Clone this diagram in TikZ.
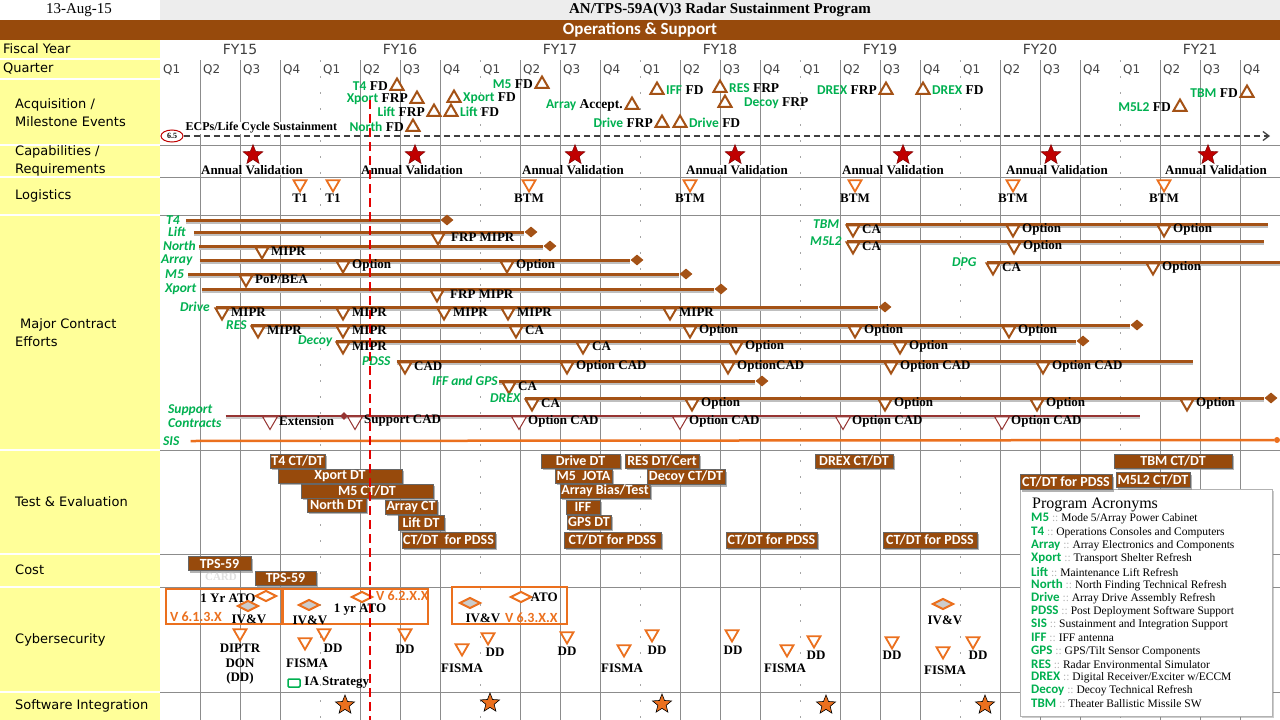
\documentclass[tikz,border=0pt]{standalone}
\usepackage{fontspec}
\setmainfont{Liberation Serif}
\setsansfont{Carlito}
\newfontfamily\encabezado{DejaVu Sans}
\usetikzlibrary{arrows.meta,positioning,shapes.geometric,shadows}
\definecolor{burntbrown}{RGB}{151,74,12}
\definecolor{barbrown}{RGB}{164,82,22}
\definecolor{excelgreen}{RGB}{0,176,80}
\definecolor{paleyellow}{RGB}{255,255,153}
\definecolor{pumpkin}{RGB}{235,112,30}
\definecolor{rojoestrella}{RGB}{192,0,0}
\definecolor{vino}{RGB}{150,52,50}
\newcommand{\sigla}[1]{{\sffamily\bfseries\color{excelgreen}#1}}
\tikzset{
  rejilla/.style={
    black!45,
    line width=0.8pt
  },
  rotulo/.style={
    anchor=west,
    inner sep=0pt,
    align=left,
    font=\encabezado\fontsize{13}{18}\selectfont
  },
  trim/.style={
    anchor=west,
    inner sep=0pt,
    text=black!75,
    font=\encabezado\fontsize{12}{14}\selectfont
  },
  nota/.style={
    inner sep=0.5pt,
    font=\bfseries\fontsize{13}{14.5}\selectfont
  },
  evento/.style={
    inner sep=0.5pt,
    font=\bfseries\fontsize{13.5}{14}\selectfont
  },
  hito/.style={
    regular polygon,
    regular polygon sides=3,
    draw=barbrown,
    fill=white,
    line width=2pt,
    minimum size=15pt,
    inner sep=0pt
  },
  marca/.style={
    hito,
    shape border rotate=180
  },
  logist/.style={
    marca,
    draw=pumpkin,
    line width=1.8pt
  },
  tenue/.style={
    marca,
    draw=vino,
    line width=1pt,
    minimum size=17pt
  },
  contrato/.style={
    anchor=west,
    inner sep=0pt,
    align=left,
    text=excelgreen,
    font=\sffamily\bfseries\itshape\fontsize{13.5}{13.5}\selectfont
  },
  barra/.style={
    draw=barbrown,
    line width=3pt,
    preaction={draw=black!25,line width=3pt,transform canvas={yshift=-2.5pt}}
  },
  fin/.style={
    diamond,
    fill=barbrown,
    inner sep=0pt,
    minimum width=13pt,
    minimum height=11pt
  },
  caja/.style={
    draw=black!60,
    fill=burntbrown,
    text=white,
    inner sep=0pt,
    font=\sffamily\bfseries\fontsize{14}{14}\selectfont,
    drop shadow={shadow xshift=2pt,shadow yshift=-2pt,opacity=.6}
  },
  ciclo/.style={
    draw=pumpkin,
    line width=2.5pt
  },
  rombo/.style={
    diamond,
    draw=pumpkin,
    line width=2pt,
    fill=white,
    minimum width=21pt,
    minimum height=11pt,
    inner sep=0pt
  },
  rombogris/.style={
    rombo,
    fill=black!20
  },
  version/.style={
    anchor=west,
    inner sep=0pt,
    text=pumpkin,
    font=\sffamily\bfseries\fontsize{14}{14}\selectfont
  },
  estrella/.style={
    star,
    star points=5,
    star point ratio=2.3,
    fill=rojoestrella,
    draw=rojoestrella!60!black,
    minimum size=21pt,
    inner sep=0pt
  },
  estrellita/.style={
    estrella,
    fill=pumpkin,
    draw=black,
    line width=0.6pt,
    minimum size=20pt
  },
  hoy/.style={
    red!90!black,
    line width=2.5pt,
    dash pattern=on 9pt off 5pt
  }
}

\begin{document}
\begin{tikzpicture}[x=1pt,y=-1pt,>=Stealth]
\useasboundingbox (0,0) rectangle (1280,720);
% cabecera
\fill[white] (0,0) rectangle (160,20);
\fill[black!7] (160,0) rectangle (1280,20);
\fill[burntbrown] (0,20) rectangle (1280,40);
\node[font=\fontsize{15}{15}\selectfont] (fecha) at (79,10) {13-Aug-15};
\node[font=\bfseries\fontsize{15}{15}\selectfont] (titulo) at (720,10) {AN/TPS-59A(V)3 Radar Sustainment Program};
\node[text=white,font=\sffamily\bfseries\fontsize{17}{17}\selectfont] (banda) at (640,30) {Operations \& Support};

% rejilla
\fill[paleyellow] (0,40) rectangle (160,720);
\foreach \y in {59,79,145,177,215,450,554,587,692}
  \draw[white,line width=1.5pt] (0,\y) -- (160,\y);
\foreach \y in {145,177,215,450,554,587,692}
  \draw[rejilla] (160,\y) -- (1280,\y);
\foreach \k in {1,...,27} {
  \pgfmathtruncatemacro\r{mod(\k,4)}
  \ifnum\r=0
    \draw[rejilla,black!35,dash pattern=on 2pt off 14pt] ({160+40*\k},60) -- ({160+40*\k},720);
  \else
    \draw[rejilla] ({160+40*\k},60) -- ({160+40*\k},720);
  \fi
}
\foreach \a [count=\f from 0] in {15,...,21}
  \node[trim,anchor=center,font=\encabezado\fontsize{14}{14}\selectfont] (fy\a) at ({240+160*\f},49) {FY\a};
\foreach \k in {0,...,27} {
  \pgfmathtruncatemacro\q{mod(\k,4)+1}
  \node[trim] (q\k) at ({163+40*\k},70) {Q\q};
}

% rotulos de filas
\node[rotulo] (r-fy) at (3,49) {Fiscal Year};
\node[rotulo] (r-q) at (3,69) {Quarter};
\node[rotulo] (r-acq) at (15,113) {Acquisition /\\Milestone Events};
\node[rotulo] (r-cap) at (15,161) {Capabilities /\\Requirements};
\node[rotulo] (r-log) at (15,196) {Logistics};
\node[rotulo] (r-mce) at (15,333) {\hspace{5pt}Major Contract\\Efforts};
\node[rotulo] (r-te) at (15,502) {Test \& Evaluation};
\node[rotulo] (r-cost) at (15,570) {Cost};
\node[rotulo] (r-cyber) at (15,640) {Cybersecurity};
\node[rotulo] (r-sw) at (15,706) {Software Integration};

% adquisicion
\foreach \x/\y/\n/\t [count=\i] in {397/86/T4/FD, 417/99/Xport/FRP, 434/112/Lift/FRP, 413/127/North/FD, 542/84/M5/FD, 632/105/Array/Accept., 662/123/Drive/FRP, 886/90/DREX/FRP, 1180/107/M5L2/FD, 1247/93/TBM/FD} {
  \node[hito] (hi\i) at (\x,\y) {};
  \node[evento,left=3pt of hi\i] (ei\i) {\sigla{\n} \t};
}
\foreach \x/\y/\n/\t [count=\i] in {454/98/Xport/FD, 451/112/Lift/FD, 657/90/IFF/FD, 680/123/Drive/FD, 720/88/RES/FRP, 923/90/DREX/FD} {
  \node[hito] (hd\i) at (\x,\y) {};
  \node[evento,right=3pt of hd\i] (ed\i) {\sigla{\n} \t};
}
\node[hito] (h-decoy) at (725,103) {};
\node[evento,right=13pt of h-decoy] (e-decoy) {\sigla{Decoy} FRP};
\node[ellipse,draw=red!75!black,line width=1pt,inner sep=0pt,minimum width=22pt,minimum height=12pt,font=\bfseries\fontsize{8}{8}\selectfont] (v65) at (172,136) {6.5};
\node[nota,anchor=west,fill=white,font=\bfseries\fontsize{12}{12}\selectfont] (ecp) at (185,128) {ECPs/Life Cycle Sustainment};
\coordinate (ecp-fin) at (1270,136);
\draw[black!75,line width=1.3pt,dash pattern=on 6pt off 4pt,-{Straight Barb[length=6pt,width=9pt]}] (v65) -- (ecp-fin);

% capacidades
\foreach \x/\tx [count=\i] in {253/252, 415/412, 575/573, 735/737, 903/893, 1051/1057, 1208/1216} {
  \node[estrella] (s\i) at (\x,155) {};
  \node[nota,fill=white] (av\i) at (\tx,170) {Annual Validation};
}

% logistica
\foreach \x/\t [count=\i] in {300/T1, 333/T1, 529/BTM, 690/BTM, 855/BTM, 1013/BTM, 1164/BTM} {
  \node[logist] (lg\i) at (\x,184) {};
  \node[nota,below=0pt of lg\i] (lt\i) {\t};
}

% contratos
\node[contrato] (k-t4) at (166,220) {T4};
\node[fin] (e-t4) at (447,220) {};
\draw[barra] ([xshift=6pt]k-t4.east) -- (e-t4);

\node[contrato] (k-lift) at (168,232) {Lift};
\node[fin] (e-lift) at (531,232) {};
\draw[barra] ([xshift=8pt]k-lift.east) -- (e-lift);
\node[marca] (m-lift) at (438,237) {};
\node[nota,right=7pt of m-lift] (n-lift) {FRP MIPR};

\node[contrato] (k-north) at (163,246) {North};
\node[fin] (e-north) at (550,246) {};
\draw[barra] ([xshift=3pt]k-north.east) -- (e-north);
\node[marca] (m-north) at (262,251) {};
\node[nota,right=3pt of m-north] (n-north) {MIPR};

\node[contrato] (k-array) at (161,260) {Array};
\node[fin] (e-array) at (637,260) {};
\draw[barra] ([xshift=7pt]k-array.east) -- (e-array);
\foreach \x/\t in {343/Option, 507/Option} {
  \node[marca] (m-array-\x) at (\x,265) {};
  \node[nota,right=3pt of m-array-\x] (n-array-\x) {\t};
}

\node[contrato] (k-m5) at (165,274) {M5};
\node[fin] (e-m5) at (686,274) {};
\draw[barra] ([xshift=4pt]k-m5.east) -- (e-m5);
\node[marca] (m-m5) at (246,279) {};
\node[nota,right=3pt of m-m5] (n-m5) {PoP/BEA};

\node[contrato] (k-xport) at (165,289) {Xport};
\node[fin] (e-xport) at (721,289) {};
\draw[barra] ([xshift=5pt]k-xport.east) -- (e-xport);
\node[marca] (m-xport) at (437,294) {};
\node[nota,right=7pt of m-xport] (n-xport) {FRP MIPR};

\node[contrato] (k-drive) at (180,307) {Drive};
\node[fin] (e-drive) at (885,307) {};
\draw[barra] ([xshift=6pt]k-drive.east) -- (e-drive);
\foreach \x/\t in {222/MIPR, 343/MIPR, 444/MIPR, 508/MIPR, 670/MIPR} {
  \node[marca] (m-drive-\x) at (\x,312) {};
  \node[nota,right=3pt of m-drive-\x] (n-drive-\x) {\t};
}

\node[contrato] (k-res) at (226,325) {RES};
\node[fin] (e-res) at (1137,325) {};
\draw[barra] ([xshift=4pt]k-res.east) -- (e-res);
\foreach \x/\t in {258/MIPR, 343/MIPR, 516/CA, 690/Option, 855/Option, 1009/Option} {
  \node[marca] (m-res-\x) at (\x,330) {};
  \node[nota,right=3pt of m-res-\x] (n-res-\x) {\t};
}

\node[contrato] (k-decoy) at (298,341) {Decoy};
\node[fin] (e-decoy) at (1083,341) {};
\draw[barra] ([xshift=4pt]k-decoy.east) -- (e-decoy);
\foreach \x/\t in {343/MIPR, 583/CA, 736/Option, 900/Option} {
  \node[marca] (m-decoy-\x) at (\x,346) {};
  \node[nota,right=3pt of m-decoy-\x] (n-decoy-\x) {\t};
}

\node[contrato] (k-pdss) at (362,361) {PDSS};
\coordinate (e-pdss) at (1193,361);
\draw[barra] ([xshift=6pt]k-pdss.east) -- (e-pdss);
\foreach \x/\t in {405/CAD, 567/Option CAD, 728/OptionCAD, 891/Option CAD, 1043/Option CAD} {
  \node[marca] (m-pdss-\x) at (\x,366) {};
  \node[nota,right=3pt of m-pdss-\x] (n-pdss-\x) {\t};
}

\node[contrato] (k-iff) at (432,381) {IFF and GPS};
\node[fin] (e-iff) at (762,381) {};
\draw[barra] ([xshift=1pt]k-iff.east) -- (e-iff);
\node[marca] (m-iff) at (509,386) {};
\node[nota,right=3pt of m-iff] (n-iff) {CA};

\node[contrato] (k-drex) at (490,398) {DREX};
\node[fin] (e-drex) at (1271,398) {};
\draw[barra] ([xshift=4pt]k-drex.east) -- (e-drex);
\foreach \x/\t in {532/CA, 692/Option, 885/Option, 1037/Option, 1187/Option} {
  \node[marca] (m-drex-\x) at (\x,403) {};
  \node[nota,right=3pt of m-drex-\x] (n-drex-\x) {\t};
}

\node[contrato] (k-tbm) at (813,224) {TBM};
\coordinate (e-tbm) at (1268,224);
\draw[barra] ([xshift=7pt]k-tbm.east) -- (e-tbm);
\foreach \x/\t in {853/CA, 1013/Option, 1164/Option} {
  \node[marca] (m-tbm-\x) at (\x,229) {};
  \node[nota,right=3pt of m-tbm-\x] (n-tbm-\x) {\t};
}

\node[contrato] (k-m5l2) at (810,241) {M5L2};
\coordinate (e-m5l2) at (1264,241);
\draw[barra] ([xshift=5pt]k-m5l2.east) -- (e-m5l2);
\foreach \x/\t in {853/CA, 1014/Option} {
  \node[marca] (m-m5l2-\x) at (\x,246) {};
  \node[nota,right=3pt of m-m5l2-\x] (n-m5l2-\x) {\t};
}

\node[contrato] (k-dpg) at (952,262) {DPG};
\coordinate (e-dpg) at (1280,262);
\draw[barra] ([xshift=10pt]k-dpg.east) -- (e-dpg);
\foreach \x/\t in {993/CA, 1153/Option} {
  \node[marca] (m-dpg-\x) at (\x,267) {};
  \node[nota,right=3pt of m-dpg-\x] (n-dpg-\x) {\t};
}

\node[contrato] (k-sup) at (168,416) {Support\\Contracts};
\coordinate (e-sup) at (1140,416);
\draw[vino,line width=2.5pt,preaction={draw=black!20,line width=2.5pt,transform canvas={yshift=-2pt}}] ([xshift=4pt]k-sup.east) -- (e-sup);
\node[diamond,fill=vino,inner sep=0pt,minimum width=8pt,minimum height=8pt] (d-sup) at (344,416) {};
\foreach \x/\t in {270/Extension, 355/Support CAD, 519/Option CAD, 680/Option CAD, 843/Option CAD, 1002/Option CAD} {
  \node[tenue] (m-sup-\x) at (\x,421) {};
  \node[nota,right=3pt of m-sup-\x] (n-sup-\x) {\t};
}

\node[contrato] (k-sis) at (163,441) {SIS};
\node[circle,fill=pumpkin,inner sep=0pt,minimum size=6pt] (e-sis) at (1277,440) {};
\draw[pumpkin,line width=2.5pt] ([xshift=11pt]k-sis.east) -- (e-sis);

% leyenda
\node[draw=black!30,fill=white,drop shadow={shadow xshift=2pt,shadow yshift=-2pt,opacity=.4},minimum width=252pt,minimum height=227pt,inner sep=0pt] (leyenda) at (1146,602.5) {};
\node[anchor=west,inner sep=0pt,font=\fontsize{16}{16}\selectfont] (ley-tit) at (1032,505) {Program Acronyms};
\foreach \a/\d [count=\i from 0] in {M5/{Mode 5/Array Power Cabinet}, T4/{Operations Consoles and Computers}, Array/{Array Electronics and Components}, Xport/{Transport Shelter Refresh}, Lift/{Maintenance Lift Refresh}, North/{North Finding Technical Refresh}, Drive/{Array Drive Assembly Refresh}, PDSS/{Post Deployment Software Support}, SIS/{Sustainment and Integration Support}, IFF/{IFF antenna}, GPS/{GPS/Tilt Sensor Components}, RES/{Radar Environmental Simulator}, DREX/{Digital Receiver/Exciter w/ECCM}, Decoy/{Decoy Technical Refresh}, TBM/{Theater Ballistic Missile SW}}
  \node[anchor=west,inner sep=0pt,font=\fontsize{11.5}{12}\selectfont] (ley\i) at (1031,{519+13.2*\i}) {{\fontsize{13}{13}\selectfont\sigla{\a}}\textcolor{black!30}{~::~}\d};

% prueba y evaluacion
\foreach \cx/\cy/\w/\h/\t [count=\i] in {297.5/461/55/14/{T4 CT/DT}, 340/476/124/14/{Xport DT}, 367/491/132/14/{M5 CT/DT}, 336.5/505/59/14/{North DT}, 411/507/52/14/{Array CT}, 421/523/46/15/{Lift DT}, 448.5/540/93/16/{CT/DT\ \ for PDSS}, 580.5/461/79/14/{Drive DT}, 583.5/476/57/14/{M5\ \ JOTA}, 605/491/90/14/{Array Bias/Test}, 583/507/34/14/{IFF}, 589/522/44/14/{GPS DT}, 612.5/540/97/16/{CT/DT for PDSS}, 662/461/74/14/{RES DT/Cert}, 686/477/78/15/{Decoy CT/DT}, 771.5/540/91/16/{CT/DT for PDSS}, 854/461/78/14/{DREX CT/DT}, 930/540/94/16/{CT/DT for PDSS}, 1066/482/92/15/{CT/DT for PDSS}, 1173/461/118/14/{TBM CT/DT}, 1153/480/74/15/{M5L2 CT/DT}}
  \node[caja,minimum width=\w pt,minimum height=\h pt] (te\i) at (\cx,\cy) {\t};

% costo
\node[caja,minimum width=63pt,minimum height=14pt] (tps1) at (219.5,563.5) {TPS-59};
\node[text=black!12,font=\bfseries\fontsize{11}{11}\selectfont,inner sep=0pt] (card) at (221,577) {CARD};
\node[caja,minimum width=61pt,minimum height=14pt] (tps2) at (285.5,578) {TPS-59};

% ciberseguridad
\draw[ciclo] (166,589) rectangle (282,624);
\draw[ciclo] (283,589) rectangle (428,624);
\draw[ciclo] (452,587) rectangle (567,624);
\node[nota] (ato1) at (228,598) {1 Yr ATO};
\node[rombo] (d1) at (266,596) {};
\node[rombogris] (d2) at (248,606) {};
\node[version] (v1) at (170,617) {V 6.1.3.X};
\node[nota] (iv1) at (249,619) {IV\&V};
\node[rombogris] (d3) at (309,605) {};
\node[nota] (iv2) at (310,620) {IV\&V};
\node[nota] (ato2) at (360,610) {1 yr ATO};
\node[rombo] (d4) at (362,597) {};
\node[version] (v2) at (376,596) {V 6.2.X.X};
\node[rombogris] (d5) at (470,603) {};
\node[nota] (iv3) at (483,618) {IV\&V};
\node[rombo] (d6) at (521,597) {};
\node[nota,anchor=west] (ato3) at (530,597) {ATO};
\node[version] (v3) at (505,618) {V 6.3.X.X};
\node[rombogris] (d7) at (943,604) {};
\node[nota] (iv4) at (945,620) {IV\&V};
\node[logist] (cy0) at (240,633) {};
\node[nota,align=center,below=1pt of cy0] (cyt0) {DIPTR\\DON\\(DD)};
\foreach \x/\y/\t/\dx/\dy [count=\i] in {324/633/DD/9/1, 305/642/FISMA/2/7, 405/633/DD/0/2, 488/637/DD/7/1, 462/648/FISMA/0/6, 567/636/DD/0/1, 624/649/FISMA/-2/5, 652/634/DD/5/2, 732/634/DD/1/2, 787/649/FISMA/-2/5, 814/640/DD/2/1, 892/641/DD/0/0, 943/651/FISMA/2/5, 973/641/DD/5/0} {
  \node[logist] (cy\i) at (\x,\y) {};
  \node[nota,below=\dy pt of cy\i,xshift=\dx pt] (cyt\i) {\t};
}
\node[draw=excelgreen,line width=1.5pt,rounded corners=1pt,minimum width=12pt,minimum height=8pt,inner sep=0pt] (ia) at (294,683) {};
\node[nota,right=3pt of ia] (ia-t) {IA Strategy};

% integracion de software
\foreach \x/\y [count=\i] in {345/705, 490/703, 662/704, 826/705, 985/705}
  \node[estrellita] (sw\i) at (\x,\y) {};

% linea de hoy
\coordinate (hoy-a) at (370,100);
\coordinate (hoy-b) at (370,720);
\draw[hoy] (hoy-a) -- (hoy-b);
\end{tikzpicture}
\end{document}
